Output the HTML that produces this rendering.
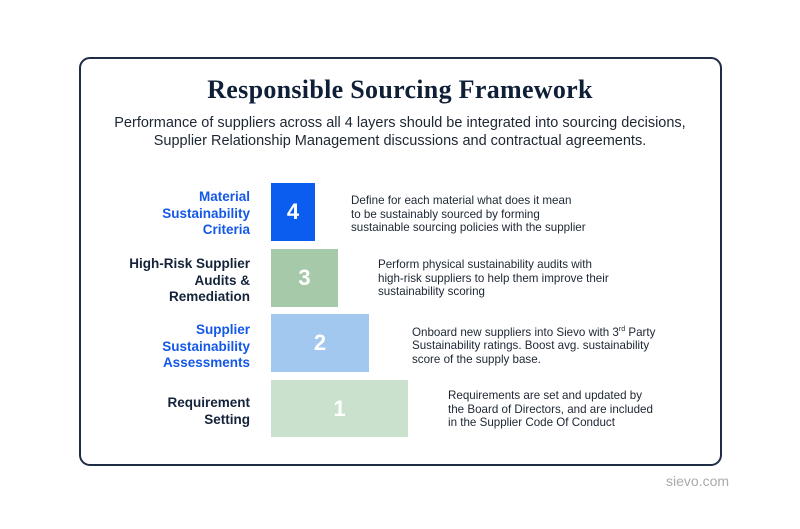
<!DOCTYPE html>
<html><head><style>
body{margin:0;width:800px;height:529px;background:#fff;position:relative;font-family:"Liberation Sans",sans-serif;overflow:hidden}
.frame{position:absolute;left:79px;top:57px;width:639px;height:405px;border:2px solid #1e2d45;border-radius:11px}
.t{position:absolute;left:0;width:800px;text-align:center;color:#0f1f38}
.box{position:absolute;left:271px;color:#fff;font-weight:bold;font-size:22px;display:flex;align-items:center;justify-content:center}
.lab{position:absolute;right:550px;text-align:right;font-weight:bold;font-size:13.5px;line-height:16.5px;color:#14233a}
.blue{color:#1458e8}
.d{position:absolute;font-size:11.6px;line-height:13.6px;color:#1d2633;white-space:nowrap}
</style></head><body>
<div class="frame"></div>
<div class="t" style="top:75px;font-family:'Liberation Serif',serif;font-weight:bold;font-size:26px;letter-spacing:0.3px">Responsible Sourcing Framework</div>
<div class="t" style="top:114px;font-size:14.5px;line-height:18px;color:#1d2633">Performance of suppliers across all 4 layers should be integrated into sourcing decisions,<br>Supplier Relationship Management discussions and contractual agreements.</div>

<div class="box" style="top:183px;width:44px;height:58px;background:#0b5df0">4</div>
<div class="box" style="top:249px;width:67px;height:58px;background:#a5c9a9">3</div>
<div class="box" style="top:314px;width:98px;height:58px;background:#a2c8f0">2</div>
<div class="box" style="top:380px;width:137px;height:57px;background:#c9e1cd">1</div>

<div class="lab blue" style="top:189px">Material<br>Sustainability<br>Criteria</div>
<div class="lab" style="top:256px">High-Risk Supplier<br>Audits &amp;<br>Remediation</div>
<div class="lab blue" style="top:322px">Supplier<br>Sustainability<br>Assessments</div>
<div class="lab" style="top:395px">Requirement<br>Setting</div>

<div class="d" style="left:351px;top:194px">Define for each material what does it mean<br>to be sustainably sourced by forming<br>sustainable sourcing policies with the supplier</div>
<div class="d" style="left:378px;top:258px">Perform physical sustainability audits with<br>high-risk suppliers to help them improve their<br>sustainability scoring</div>
<div class="d" style="left:412px;top:323px">Onboard new suppliers into Sievo with 3<sup style="font-size:7px">rd</sup> Party<br>Sustainability ratings. Boost avg. sustainability<br>score of the supply base.</div>
<div class="d" style="left:448px;top:389px">Requirements are set and updated by<br>the Board of Directors, and are included<br>in the Supplier Code Of Conduct</div>

<div style="position:absolute;left:666px;top:473px;font-size:14px;color:#aaa">sievo.com</div>
</body></html>
